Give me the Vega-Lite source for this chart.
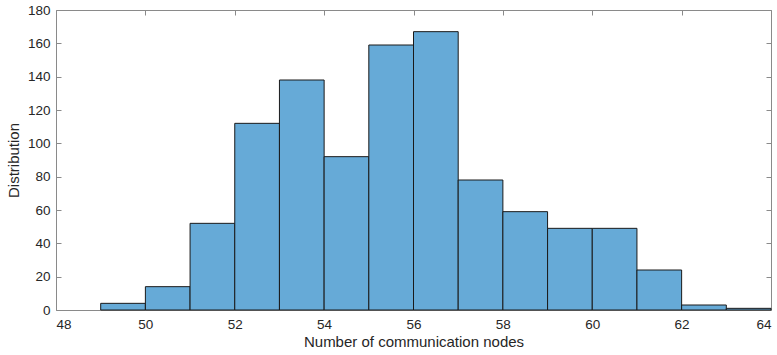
{
  "$schema": "https://vega.github.io/schema/vega-lite/v6.json",
  "width": 715,
  "height": 300,
  "autosize": {"type": "none"},
  "padding": {"left": 56, "top": 10, "right": 6, "bottom": 45},
  "background": "white",
  "config": {
    "view": {"stroke": "#8a8a8a", "strokeWidth": 1},
    "font": "Liberation Sans",
    "axis": {
      "grid": false,
      "domain": false,
      "tickColor": "#8a8a8a",
      "tickSize": -5,
      "labelColor": "#262626",
      "labelFont": "Liberation Sans",
      "labelFontSize": 13.5,
      "titleFont": "Liberation Sans",
      "titleFontSize": 15,
      "titleFontWeight": "normal",
      "titleColor": "#262626"
    }
  },
  "data": {
    "values": [
      {"bin_start": 49, "bin_end": 50, "count": 4},
      {"bin_start": 50, "bin_end": 51, "count": 14},
      {"bin_start": 51, "bin_end": 52, "count": 52},
      {"bin_start": 52, "bin_end": 53, "count": 112},
      {"bin_start": 53, "bin_end": 54, "count": 138},
      {"bin_start": 54, "bin_end": 55, "count": 92},
      {"bin_start": 55, "bin_end": 56, "count": 159},
      {"bin_start": 56, "bin_end": 57, "count": 167},
      {"bin_start": 57, "bin_end": 58, "count": 78},
      {"bin_start": 58, "bin_end": 59, "count": 59},
      {"bin_start": 59, "bin_end": 60, "count": 49},
      {"bin_start": 60, "bin_end": 61, "count": 49},
      {"bin_start": 61, "bin_end": 62, "count": 24},
      {"bin_start": 62, "bin_end": 63, "count": 3},
      {"bin_start": 63, "bin_end": 64, "count": 1}
    ]
  },
  "layer": [
    {
      "mark": {"type": "bar", "fill": "#66aad7", "stroke": "#1a1a1a", "strokeWidth": 1, "binSpacing": 0},
      "encoding": {
        "x": {
          "field": "bin_start", "type": "quantitative",
          "scale": {"domain": [48, 64], "nice": false, "zero": false},
          "axis": {"orient": "bottom", "values": [48, 50, 52, 54, 56, 58, 60, 62, 64], "title": "Number of communication nodes", "labelPadding": 12, "titlePadding": 4}
        },
        "x2": {"field": "bin_end"},
        "y": {
          "field": "count", "type": "quantitative",
          "scale": {"domain": [0, 180], "nice": false},
          "axis": {"orient": "left", "values": [0, 20, 40, 60, 80, 100, 120, 140, 160, 180], "title": "Distribution", "labelPadding": 11, "titlePadding": 6}
        },
        "y2": {"datum": 0}
      }
    },
    {
      "mark": {"type": "bar", "opacity": 0},
      "encoding": {
        "x": {
          "field": "bin_start", "type": "quantitative",
          "scale": {"domain": [48, 64], "nice": false, "zero": false},
          "axis": {"orient": "top", "values": [48, 50, 52, 54, 56, 58, 60, 62, 64], "labels": false, "title": null}
        },
        "x2": {"field": "bin_end"},
        "y": {
          "field": "count", "type": "quantitative",
          "scale": {"domain": [0, 180], "nice": false},
          "axis": {"orient": "right", "values": [0, 20, 40, 60, 80, 100, 120, 140, 160, 180], "labels": false, "title": null}
        },
        "y2": {"datum": 0}
      }
    }
  ],
  "resolve": {"axis": {"x": "independent", "y": "independent"}}
}
